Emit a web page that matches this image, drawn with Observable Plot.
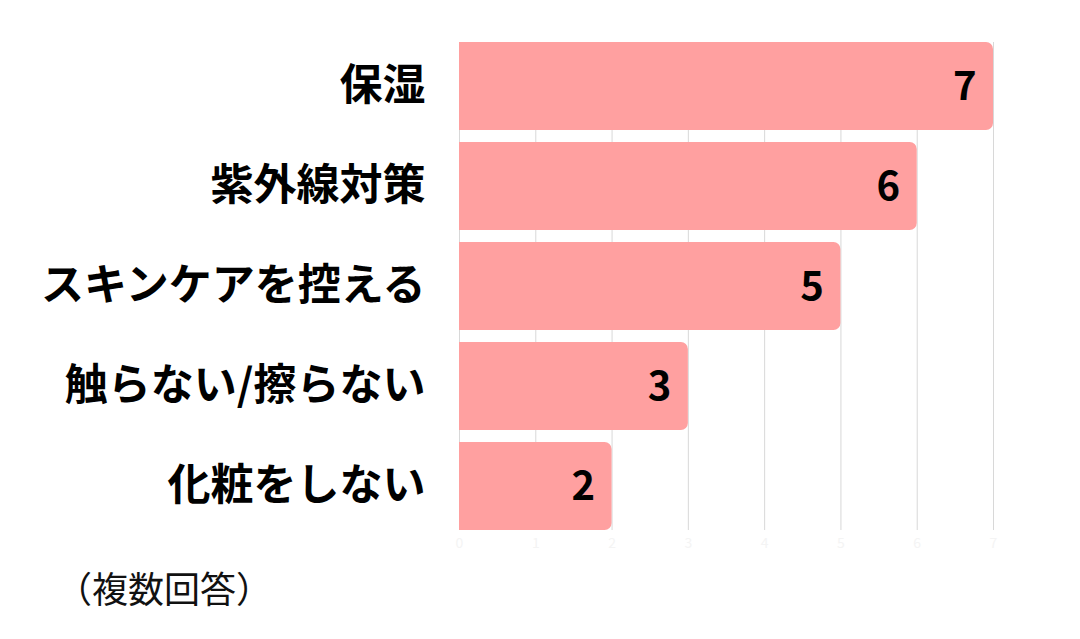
<!DOCTYPE html>
<html><head><meta charset="utf-8">
<script src="https://cdn.jsdelivr.net/npm/d3@7"></script>
<script src="https://cdn.jsdelivr.net/npm/@observablehq/plot@0.6"></script>
<style>
html,body{margin:0;padding:0;background:#fff;}
#wrap{width:1080px;height:639px;position:relative;overflow:hidden;}
#cap{position:absolute;left:56px;top:569px;line-height:1;font-family:"Noto Sans CJK JP",sans-serif;font-size:36px;color:#111;}
</style></head>
<body><div id="wrap"><div id="chart"></div><div id="cap">（複数回答）</div></div>
<script>
const categories = ["保湿","紫外線対策","スキンケアを控える","触らない/擦らない","化粧をしない"];
const counts = [7,6,5,3,2];
const xTicks = [0,1,2,3,4,5,6,7];
const data = categories.map((c,i)=>({cat:c, n:counts[i]}));

const chart = Plot.plot({
  width:1080, height:560,
  marginLeft:459, marginRight:87, marginTop:36, marginBottom:24,
  style:{fontFamily:"'Noto Sans CJK JP',sans-serif", background:"#fff"},
  x:{domain:[0,7], ticks:xTicks, label:null},
  y:{domain:categories, paddingInner:0.12, paddingOuter:0.06, label:null},
  marks:[
    Plot.gridX(xTicks,{stroke:"#d8d8d8", strokeOpacity:1, insetTop:6, insetBottom:6}),
    Plot.axisX(xTicks,{tickSize:0, tickPadding:2, fill:"#f4f4f4", fontSize:14, label:null}),
    Plot.barX(data,{x:"n", y:"cat", fill:"#ffa0a0", rx2y1:7, rx2y2:7}),
    Plot.text(data,{x:"n", y:"cat", text:d=>String(d.n), textAnchor:"end", dx:-17, dy:1, fontSize:40, fontWeight:700, fill:"#000"}),
    Plot.axisY({tickSize:0, tickPadding:34, fontSize:43, fontWeight:700, fill:"#000", label:null})
  ]
});
document.getElementById("chart").appendChild(chart);
</script></body></html>
